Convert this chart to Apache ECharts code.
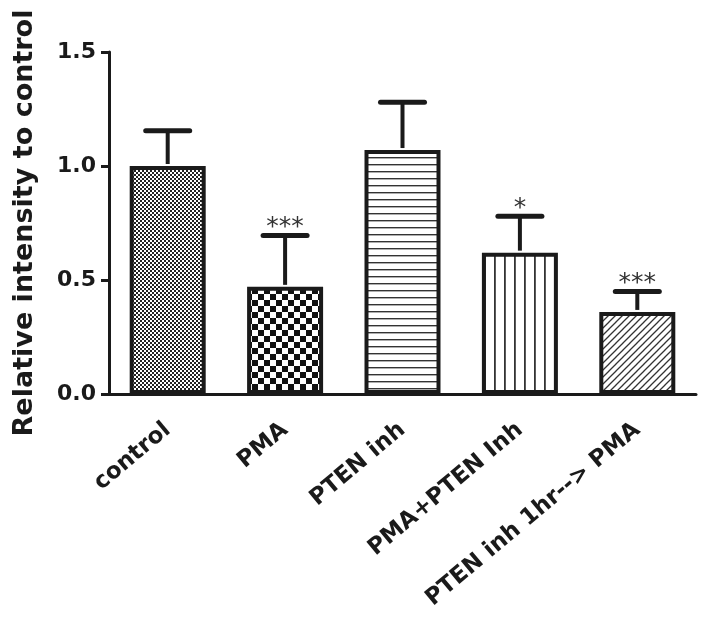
<!DOCTYPE html>
<html>
<head>
<meta charset="utf-8">
<script src="https://cdn.jsdelivr.net/npm/echarts@6/dist/echarts.min.js"></script>
<style>
html,body{margin:0;padding:0;background:#fff;}
#chart{width:704px;height:621px;}
</style>
</head>
<body>
<div id="chart"></div>
<script>
const categories = ['control', 'PMA', 'PTEN inh', 'PMA+PTEN Inh', 'PTEN inh 1hr--> PMA'];
const means = [1.0, 0.47, 1.07, 0.62, 0.36];
const errUpper = [1.155, 0.695, 1.28, 0.78, 0.45];
const stars = ['', '***', '', '*', '***'];
const yTicks = [0, 0.5, 1.0, 1.5];

const INK = '#1a1a1a';
const FONT = 'DejaVu Sans, Verdana, sans-serif';

function makeCanvas(w, h, draw) {
  const c = document.createElement('canvas');
  c.width = w; c.height = h;
  const ctx = c.getContext('2d');
  ctx.fillStyle = '#fff';
  ctx.fillRect(0, 0, w, h);
  draw(ctx, w, h);
  return c;
}
const patterns = [
  makeCanvas(4, 4, (ctx) => { ctx.fillStyle = '#222'; ctx.fillRect(0,0,2,2); ctx.fillRect(2,2,2,2); }),
  makeCanvas(12, 12, (ctx) => { ctx.fillStyle = '#111'; ctx.fillRect(0,0,6,6); ctx.fillRect(6,6,6,6); }),
  makeCanvas(8, 7, (ctx) => { ctx.fillStyle = '#333'; ctx.fillRect(0,3,8,1.4); }),
  makeCanvas(10, 8, (ctx) => { ctx.fillStyle = '#333'; ctx.fillRect(4,0,1.8,8); }),
  makeCanvas(7, 7, (ctx) => {
    ctx.strokeStyle = '#333'; ctx.lineWidth = 1.3;
    ctx.beginPath();
    ctx.moveTo(-1, 8); ctx.lineTo(8, -1);
    ctx.moveTo(-4.5, 4.5); ctx.lineTo(4.5, -4.5);
    ctx.moveTo(2.5, 11.5); ctx.lineTo(11.5, 2.5);
    ctx.stroke();
  })
];

const barData = means.map((v, i) => ({
  value: v,
  itemStyle: { color: { image: patterns[i], repeat: 'repeat' } }
}));

const errData = means.map((v, i) => [i, v, errUpper[i], stars[i]]);

const chart = echarts.init(document.getElementById('chart'), null, { renderer: 'canvas' });
chart.setOption({
  animation: false,
  grid: { left: 109, right: 8, top: 52, bottom: 227, containLabel: false },
  xAxis: {
    type: 'category',
    data: categories,
    axisLine: { lineStyle: { color: INK, width: 3 } },
    axisTick: { alignWithLabel: true, length: 9, lineStyle: { color: INK, width: 3 } },
    axisLabel: {
      rotate: 40, interval: 0, margin: 33,
      color: INK, fontFamily: FONT, fontWeight: 'bold', fontSize: 23
    }
  },
  yAxis: {
    type: 'value',
    min: 0, max: 1.5, interval: 0.5,
    name: 'Relative intensity to control',
    nameLocation: 'middle',
    nameGap: 71,
    nameTextStyle: { color: INK, fontFamily: FONT, fontWeight: 'bold', fontSize: 27 },
    axisLine: { show: true, lineStyle: { color: INK, width: 3 } },
    axisTick: { show: true, length: 8, lineStyle: { color: INK, width: 3 } },
    splitLine: { show: false },
    axisLabel: {
      margin: 13,
      color: INK, fontFamily: FONT, fontWeight: 'bold', fontSize: 22,
      formatter: (v) => yTicks.includes(v) ? v.toFixed(1) : ''
    }
  },
  series: [
    {
      type: 'bar',
      data: barData,
      barWidth: 76,
      itemStyle: { borderColor: INK, borderWidth: 4 },
      z: 2
    },
    {
      type: 'custom',
      data: errData,
      z: 3,
      renderItem: function (params, api) {
        const i = api.value(0);
        const base = api.coord([i, api.value(1)]);
        const top = api.coord([i, api.value(2)]);
        const capHalf = 22;
        const children = [
          { type: 'line', shape: { x1: base[0], y1: base[1] - 2, x2: top[0], y2: top[1] },
            style: { stroke: INK, lineWidth: 4 } },
          { type: 'line', shape: { x1: top[0] - capHalf, y1: top[1], x2: top[0] + capHalf, y2: top[1] },
            style: { stroke: INK, lineWidth: 5, lineCap: 'round' } }
        ];
        const s = errData[params.dataIndex][3];
        if (s) {
          children.push({ type: 'text', x: top[0], y: top[1] - 8,
            style: { text: s, fill: '#333', font: '25px DejaVu Sans, sans-serif',
              align: 'center', verticalAlign: 'middle' } });
        }
        return { type: 'group', children: children };
      }
    }
  ]
});
</script>
</body>
</html>
